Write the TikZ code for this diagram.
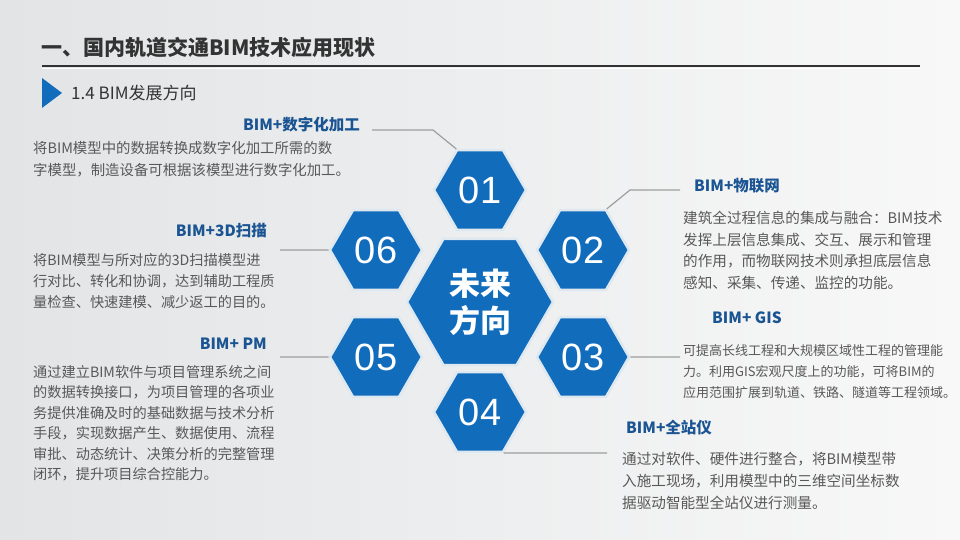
\documentclass[tikz,border=0pt]{standalone}
\usepackage{fontspec}
\setmainfont{Noto Sans CJK SC}
\newfontfamily\numfont{Liberation Sans}
\usetikzlibrary{shapes.geometric}
\definecolor{hexblue}{RGB}{18,108,188}
\definecolor{hexrim}{RGB}{222,232,240}
\definecolor{headblue}{RGB}{26,84,146}
\definecolor{bodygray}{RGB}{88,88,88}
\definecolor{linegray}{RGB}{158,158,158}
\definecolor{titlegray}{RGB}{51,51,51}
\begin{document}
\begin{tikzpicture}[x=1pt, y=-1pt,
  hex/.style={regular polygon, regular polygon sides=6, fill=hexblue, draw=hexrim,
    line width=2.5pt, inner sep=0, minimum size=92pt, text=white,
    font=\numfont\fontsize{38}{40}\selectfont},
  head/.style={inner sep=0, text=headblue, font=\fontsize{15.5}{18}\selectfont\bfseries},
  body/.style={anchor=north west, align=left, inner sep=0, text=bodygray},
  conn/.style={draw=linegray, line width=1.2pt}]
\fill[left color={rgb,255:red,226;green,228;blue,230}, right color={rgb,255:red,248;green,248;blue,248}]
  (0,0) rectangle (960,540);
\useasboundingbox (0,0) rectangle (960,540);
\node[anchor=west, inner sep=0, text=titlegray, font=\fontsize{21}{24}\selectfont\bfseries]
  (title) at (41,48) {一、国内轨道交通BIM技术应用现状};
\draw[titlegray, line width=1.2pt] (42,66) -- (920,66);
\draw[white, line width=0.8pt] (42,68.5) -- (920,68.5);
\fill[hexblue] (42,78) -- (62,93) -- (42,108) -- cycle;
\node[anchor=west, inner sep=0, text=titlegray, font=\fontsize{17}{19}\selectfont]
  (sub) at (71,93) {1.4 BIM发展方向};
\node[hex, minimum size=146pt, font=\fontsize{31}{37}\selectfont\bfseries, align=center]
  (mid) at (480,302) {未来\\方向};
\node[hex] (h1) at (480,190) {01};
\node[hex] (h2) at (583,250) {02};
\node[hex] (h3) at (583,357) {03};
\node[hex] (h4) at (480,412) {04};
\node[hex] (h5) at (376,357) {05};
\node[hex] (h6) at (376,250) {06};
\node[head, anchor=east] (t1) at (360,125) {BIM+数字化加工};
\node[body, font=\fontsize{14.4}{22}\selectfont] (b1) at (33,141)
  {将BIM模型中的数据转换成数字化加工所需的数\\字模型，制造设备可根据该模型进行数字化加工。};
\node[head, anchor=east] (t6) at (267,231) {BIM+3D扫描};
\node[body, font=\fontsize{14.2}{21}\selectfont] (b6) at (33,253)
  {将BIM模型与所对应的3D扫描模型进\\行对比、转化和协调，达到辅助工程质\\量检查、快速建模、减少返工的目的。};
\node[head, anchor=east] (t5) at (267,344) {BIM+ PM};
\node[body, font=\fontsize{14.2}{20.5}\selectfont] (b5) at (33,365)
  {通过建立BIM软件与项目管理系统之间\\的数据转换接口，为项目管理的各项业\\务提供准确及时的基础数据与技术分析\\手段，实现数据产生、数据使用、流程\\审批、动态统计、决策分析的完整管理\\闭环，提升项目综合控能力。};
\node[head, anchor=west] (t2) at (694,186) {BIM+物联网};
\node[body, font=\fontsize{14.6}{21.5}\selectfont] (b2) at (683,211)
  {建筑全过程信息的集成与融合：BIM技术\\发挥上层信息集成、交互、展示和管理\\的作用，而物联网技术则承担底层信息\\感知、采集、传递、监控的功能。};
\node[head, anchor=west] (t3) at (712,318) {BIM+ GIS};
\node[body, font=\fontsize{13}{21}\selectfont] (b3) at (683,344)
  {可提高长线工程和大规模区域性工程的管理能\\力。利用GIS宏观尺度上的功能，可将BIM的\\应用范围扩展到轨道、铁路、隧道等工程领域。};
\node[head, anchor=west] (t4) at (626,428) {BIM+全站仪};
\node[body, font=\fontsize{14.6}{22}\selectfont] (b4) at (622,452)
  {通过对软件、硬件进行整合，将BIM模型带\\入施工现场，利用模型中的三维空间坐标数\\据驱动智能型全站仪进行测量。};
\coordinate (k1) at (372,130);
\coordinate (k1b) at (433,130);
\coordinate (k2) at (680,190);
\coordinate (k2b) at (630,190);
\coordinate (k3) at (680,357);
\coordinate (k4) at (607,453);
\coordinate (k5) at (280,357);
\coordinate (k6) at (280,250);
\draw[conn] (k1) -- (k1b) -- (h1.120);
\draw[conn] (k2) -- (k2b) -- (h2.60);
\draw[conn] (h3.0) -- (k3);
\draw[conn] (h4.-60) -- (k4);
\draw[conn] (h5.180) -- (k5);
\draw[conn] (h6.180) -- (k6);
\end{tikzpicture}
\end{document}
